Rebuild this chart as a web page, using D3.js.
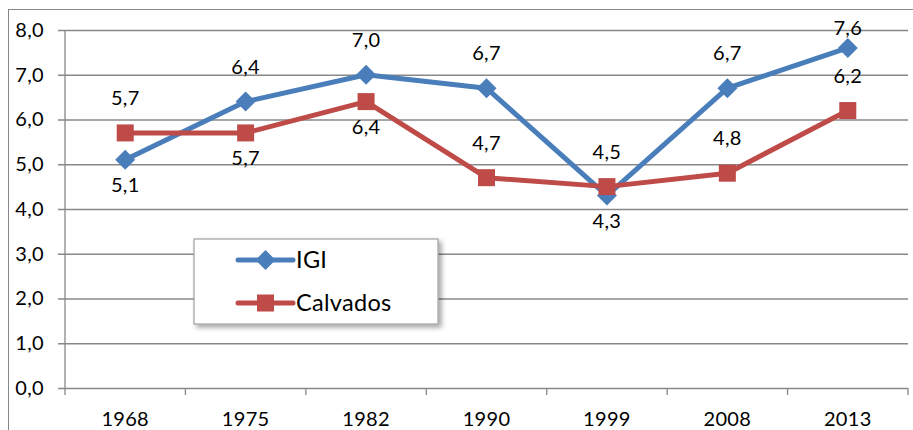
<!DOCTYPE html>
<html lang="en">

<head>
    <meta charset="UTF-8">
    <title>IGI / Calvados</title>
    <script src="https://d3js.org/d3.v7.min.js"></script>
    <style>
        body {
            margin: 0;
            background: white;
        }

        text {
            font-family: Lato, "Open Sans", sans-serif;
            fill: #000;
            letter-spacing: 0.3px;
        }
    </style>
</head>

<body>
    <svg width="913" height="430" id="chart"></svg>

    <script>
        // data
        const years = ["1968", "1975", "1982", "1990", "1999", "2008", "2013"];
        const igiValues = [5.1, 6.4, 7.0, 6.7, 4.3, 6.7, 7.6];
        const calvadosValues = [5.7, 5.7, 6.4, 4.7, 4.5, 4.8, 6.2];
        const yTicks = [0, 1, 2, 3, 4, 5, 6, 7, 8];
        // where the value label goes: "up" or "down"
        const igiLabelPos = ["down", "up", "up", "up", "down", "up", "up"];
        const calvadosLabelPos = ["up", "down", "down", "up", "up", "up", "up"];

        const series = [
            { name: "IGI", values: igiValues, labels: igiLabelPos, color: "#4A7EBB", marker: "diamond" },
            { name: "Calvados", values: calvadosValues, labels: calvadosLabelPos, color: "#BE4B48", marker: "square" }
        ];

        const svg = d3.select("#chart");
        const plotLeft = 65, plotRight = 908, plotTop = 30, plotBottom = 388;
        const gridColor = "#888888";
        const fontSize = 20;

        // outer frame (only left and top edges are inside the picture)
        svg.append("rect")
            .attr("x", 8.5).attr("y", 9.5)
            .attr("width", 1200).attr("height", 1200)
            .attr("fill", "none")
            .attr("stroke", gridColor)
            .attr("stroke-width", 1);

        const x = d3.scaleBand().domain(years).range([plotLeft, plotRight]);
        const y = d3.scaleLinear().domain([0, 8]).range([plotBottom, plotTop]);
        const fmt = v => d3.format(".1f")(v).replace(".", ",");

        // horizontal gridlines + y ticks
        svg.append("g")
            .attr("transform", `translate(${plotLeft},0)`)
            .call(d3.axisLeft(y).tickValues(yTicks).tickSize(-(plotRight - plotLeft)).tickSizeOuter(0).tickPadding(21).tickFormat(fmt))
            .call(g => g.select(".domain").remove())
            .call(g => g.selectAll(".tick line").attr("stroke", gridColor).attr("stroke-width", 1.3).attr("x1", -7))
            .call(g => g.selectAll(".tick text").attr("font-size", fontSize).attr("font-family", "Lato, sans-serif").attr("fill", "#000"));

        // y axis line
        svg.append("line")
            .attr("x1", plotLeft).attr("x2", plotLeft)
            .attr("y1", plotTop).attr("y2", plotBottom)
            .attr("stroke", gridColor).attr("stroke-width", 1.3);

        // x axis: ticks between categories
        const boundaries = years.map(d => x(d)).concat([plotRight]);
        svg.append("g")
            .selectAll("line")
            .data(boundaries)
            .join("line")
            .attr("x1", d => d).attr("x2", d => d)
            .attr("y1", plotBottom).attr("y2", plotBottom + 7)
            .attr("stroke", gridColor).attr("stroke-width", 1.3);

        svg.append("g")
            .selectAll("text")
            .data(years)
            .join("text")
            .attr("x", d => x(d) + x.bandwidth() / 2)
            .attr("y", plotBottom + 38)
            .attr("text-anchor", "middle")
            .attr("font-size", fontSize)
            .text(d => d);

        const cx = i => x(years[i]) + x.bandwidth() / 2;

        function drawMarker(g, type, color, px, py) {
            if (type === "diamond") {
                const r = 10;
                g.append("path")
                    .attr("d", `M${px},${py - r}L${px + r},${py}L${px},${py + r}L${px - r},${py}Z`)
                    .attr("fill", color);
            } else {
                const s = 17;
                g.append("rect")
                    .attr("x", px - s / 2).attr("y", py - s / 2)
                    .attr("width", s).attr("height", s)
                    .attr("fill", color);
            }
        }

        const line = d3.line()
            .x((d, i) => cx(i))
            .y(d => y(d));

        series.forEach(s => {
            const g = svg.append("g");
            g.append("path")
                .datum(s.values)
                .attr("d", line)
                .attr("fill", "none")
                .attr("stroke", s.color)
                .attr("stroke-width", 5)
                .attr("stroke-linejoin", "round");
            s.values.forEach((v, i) => drawMarker(g, s.marker, s.color, cx(i), y(v)));
        });

        // value labels
        series.forEach(s => {
            svg.append("g")
                .selectAll("text")
                .data(s.values)
                .join("text")
                .attr("x", (d, i) => cx(i))
                .attr("y", (d, i) => {
                    const mid = s.labels[i] === "up" ? Math.max(y(d) - 35, 28) : y(d) + 25;
                    return mid + 7;
                })
                .attr("text-anchor", "middle")
                .attr("font-size", fontSize)
                .text(d => fmt(d));
        });

        // legend
        const defs = svg.append("defs");
        const filter = defs.append("filter").attr("id", "shadow")
            .attr("x", "-10%").attr("y", "-10%").attr("width", "130%").attr("height", "140%");
        filter.append("feDropShadow")
            .attr("dx", 3).attr("dy", 3).attr("stdDeviation", 2.5)
            .attr("flood-color", "#000").attr("flood-opacity", 0.35);

        const legend = svg.append("g").attr("transform", "translate(194,239)");
        legend.append("rect")
            .attr("width", 244).attr("height", 85)
            .attr("fill", "white")
            .attr("stroke", "#A6A6A6")
            .attr("stroke-width", 1.3)
            .attr("filter", "url(#shadow)");

        series.forEach((s, i) => {
            const ly = 21 + i * 43;
            const item = legend.append("g");
            item.append("line")
                .attr("x1", 44).attr("x2", 99)
                .attr("y1", ly).attr("y2", ly)
                .attr("stroke", s.color)
                .attr("stroke-width", 5)
                .attr("stroke-linecap", "round");
            drawMarker(item, s.marker, s.color, 71.5, ly);
            item.append("text")
                .attr("x", 102)
                .attr("y", ly + 8)
                .attr("font-size", 23.5)
                .text(s.name);
        });
    </script>
</body>

</html>
